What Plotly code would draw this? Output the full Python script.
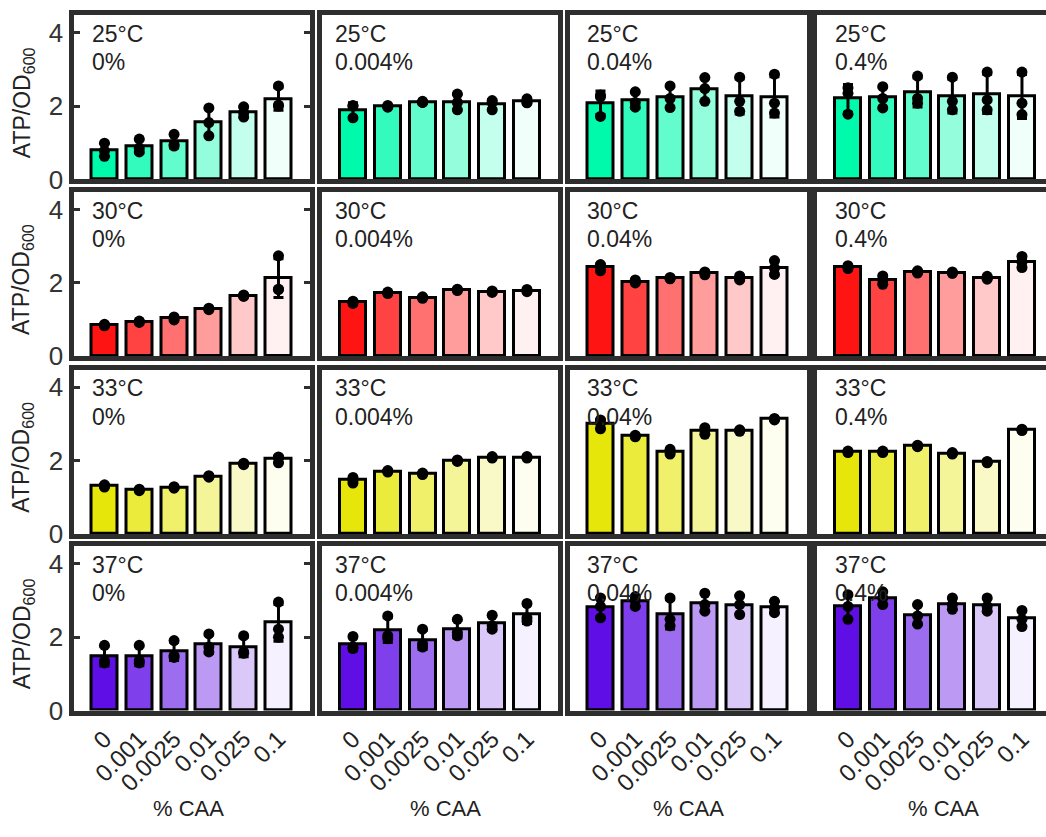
import numpy as np
import plotly.graph_objects as go

# ---------------- data ----------------
temps = ["25°C", "30°C", "33°C", "37°C"]
caa_pre = ["0%", "0.004%", "0.04%", "0.4%"]
caa_x = ["0", "0.001", "0.0025", "0.01", "0.025", "0.1"]

# replicate ATP/OD600 values: [pre-treatment panel][CAA level][replicate]
reps_25 = [
    [[0.99, 0.78, 0.63], [1.10, 0.85, 0.75], [1.23, 0.95, 0.91], [1.95, 1.55, 1.19], [1.98, 1.82, 1.70], [2.55, 2.03, 2.00]],
    [[2.00, 2.02, 1.68], [2.02, 1.98, 1.97], [2.13, 2.10, 2.10], [2.33, 2.10, 1.90], [2.15, 2.10, 1.90], [2.20, 2.10, 2.09]],
    [[2.30, 2.25, 1.72], [2.39, 2.10, 1.97], [2.55, 2.21, 1.96], [2.78, 2.48, 2.13], [2.79, 2.13, 1.86], [2.87, 2.08, 1.81]],
    [[2.50, 2.35, 1.78], [2.53, 2.21, 1.95], [2.82, 2.21, 2.08], [2.79, 2.13, 1.90], [2.93, 2.17, 1.90], [2.93, 2.08, 1.77]],
]
reps_30 = [
    [[0.87, 0.85, 0.83], [0.96, 0.94, 0.92], [1.07, 1.03, 0.99], [1.31, 1.29, 1.27], [1.67, 1.65, 1.63], [2.74, 1.83, 1.82]],
    [[1.50, 1.47, 1.44], [1.75, 1.73, 1.71], [1.62, 1.60, 1.58], [1.83, 1.81, 1.79], [1.78, 1.76, 1.74], [1.82, 1.79, 1.76]],
    [[2.50, 2.45, 2.33], [2.08, 2.03, 2.00], [2.15, 2.13, 2.11], [2.30, 2.28, 2.22], [2.19, 2.12, 2.08], [2.61, 2.40, 2.23]],
    [[2.47, 2.43, 2.39], [2.19, 2.07, 1.96], [2.33, 2.30, 2.27], [2.30, 2.27, 2.26], [2.18, 2.14, 2.10], [2.72, 2.57, 2.42]],
]
reps_33 = [
    [[1.34, 1.31, 1.28], [1.22, 1.20, 1.18], [1.29, 1.27, 1.25], [1.59, 1.57, 1.55], [1.93, 1.91, 1.89], [2.10, 2.08, 1.94]],
    [[1.54, 1.48, 1.39], [1.73, 1.71, 1.69], [1.66, 1.64, 1.62], [2.02, 2.00, 1.98], [2.11, 2.09, 2.07], [2.11, 2.09, 2.07]],
    [[3.11, 3.02, 2.87], [2.69, 2.67, 2.65], [2.31, 2.24, 2.18], [2.90, 2.84, 2.72], [2.84, 2.82, 2.80], [3.15, 3.13, 3.11]],
    [[2.26, 2.24, 2.22], [2.26, 2.24, 2.22], [2.42, 2.40, 2.38], [2.22, 2.20, 2.18], [1.98, 1.96, 1.94], [2.86, 2.84, 2.82]],
]
reps_37 = [
    [[1.78, 1.35, 1.30], [1.78, 1.36, 1.30], [1.91, 1.50, 1.45], [2.09, 1.73, 1.60], [2.04, 1.60, 1.56], [2.96, 2.22, 2.00]],
    [[2.02, 1.73, 1.69], [2.58, 2.04, 1.96], [2.22, 1.82, 1.73], [2.49, 2.13, 2.04], [2.60, 2.31, 2.22], [2.92, 2.53, 2.44]],
    [[3.07, 2.84, 2.53], [3.11, 3.00, 2.84], [3.07, 2.49, 2.31], [3.20, 2.89, 2.71], [3.13, 2.89, 2.62], [2.98, 2.80, 2.67]],
    [[3.16, 2.84, 2.49], [3.24, 3.07, 2.89], [2.89, 2.58, 2.36], [3.07, 2.89, 2.76], [3.07, 2.84, 2.71], [2.73, 2.49, 2.29]],
]
all_reps = [reps_25, reps_30, reps_33, reps_37]

base_colors = [(0, 250, 172), (255, 20, 20), (230, 230, 10), (95, 15, 230)]
shade_alpha = [1.0, 0.8, 0.61, 0.42, 0.23, 0.06]

# ---------------- geometry (px) ----------------
W, H = 1046, 837
col_left = [73.5, 322, 569.5, 817]
col_right = [309.5, 558, 807, 1046]
px_per_unit = 34.8
x0 = 0.11
row_top = [15.5, 195.5, 376.5, 556.3]
row_h = 167.2
ymax = 4.48
text_off = [16, 11, 15, 16]

frame_col = "#2e2e2e"
FONT = "Liberation Sans, Arial, sans-serif"


def shade(c, a):
    return "rgb(%d,%d,%d)" % tuple(round(255 - (255 - v) * a) for v in c)


fig = go.Figure()
annotations = []
xs = np.arange(1, 7)

for r in range(4):
    for c in range(4):
        idx = r * 4 + c + 1
        xa = "x" if idx == 1 else "x%d" % idx
        ya = "y" if idx == 1 else "y%d" % idx
        data = np.array(all_reps[r][c])
        means = data.mean(axis=1)
        sds = data.std(axis=1, ddof=1)
        colors = [shade(base_colors[r], a) for a in shade_alpha]
        fig.add_trace(go.Bar(
            x=xs, y=means, width=0.75,
            marker=dict(color=colors, line=dict(color="black", width=3)),
            error_y=dict(type="data", array=sds, visible=True, color="black",
                         thickness=3, width=5),
            xaxis=xa, yaxis=ya, showlegend=False, hoverinfo="skip"))
        px_ = np.repeat(xs, data.shape[1])
        fig.add_trace(go.Scatter(
            x=px_, y=data.flatten(), mode="markers",
            marker=dict(color="black", size=11),
            xaxis=xa, yaxis=ya, showlegend=False, hoverinfo="skip"))

        L, R = col_left[c], col_right[c]
        T = row_top[r]
        B = T + row_h
        xdom = [L / W, min(R / W, 1.0)]
        ydom = [1 - B / H, 1 - T / H]
        xr = [x0, x0 + (R - L) / px_per_unit]
        bottom = (r == 3)
        fig.update_layout(**{
            ("xaxis" if idx == 1 else "xaxis%d" % idx): dict(
                domain=xdom, range=xr, anchor=ya,
                showline=True, linewidth=5, linecolor=frame_col, mirror=True,
                showgrid=False, zeroline=False,
                tickmode="array", tickvals=list(xs), ticktext=caa_x,
                showticklabels=bottom, ticks="",
                tickangle=-45, tickfont=dict(size=24, color="#222", family=FONT),
            ),
            ("yaxis" if idx == 1 else "yaxis%d" % idx): dict(
                domain=ydom, range=[0, ymax], anchor=xa,
                showline=True, linewidth=5, linecolor=frame_col,
                mirror=("ticks" if c == 0 else (False if c == 3 else True)),
                showgrid=False, zeroline=False,
                tickmode="array", tickvals=[0, 2, 4],
                showticklabels=(c == 0),
                ticks=("inside" if c == 0 else ""), ticklen=6, tickwidth=3,
                tickcolor=frame_col,
                tickfont=dict(size=26, color="#333", family=FONT),
            ),
        })
        # panel labels
        annotations.append(dict(
            x=(L + text_off[c]) / W, y=1 - (T + 19) / H, xref="paper", yref="paper",
            text=temps[r], showarrow=False, xanchor="left", yanchor="middle",
            font=dict(size=23, color="#222", family=FONT)))
        annotations.append(dict(
            x=(L + text_off[c]) / W, y=1 - (T + 48) / H, xref="paper", yref="paper",
            text=caa_pre[c], showarrow=False, xanchor="left", yanchor="middle",
            font=dict(size=23, color="#222", family=FONT)))

# y-axis titles
for r in range(4):
    yc = row_top[r] + row_h / 2 + 6
    annotations.append(dict(
        x=23 / W, y=1 - yc / H, xref="paper", yref="paper",
        text="ATP/OD<sub>600</sub>", showarrow=False, textangle=-90,
        xanchor="center", yanchor="middle",
        font=dict(size=23, color="#222", family=FONT)))

# x-axis titles
for xc in [188, 445, 688, 943]:
    annotations.append(dict(
        x=xc / W, y=1 - 823 / H, xref="paper", yref="paper",
        text="% CAA", showarrow=False, xanchor="center", yanchor="middle",
        font=dict(size=22, color="#222", family=FONT)))

fig.update_layout(
    width=W, height=H,
    margin=dict(l=0, r=0, t=0, b=0),
    plot_bgcolor="white", paper_bgcolor="white",
    annotations=annotations,
    bargap=0,
    font=dict(family=FONT),
)

fig.write_html("out.html")
